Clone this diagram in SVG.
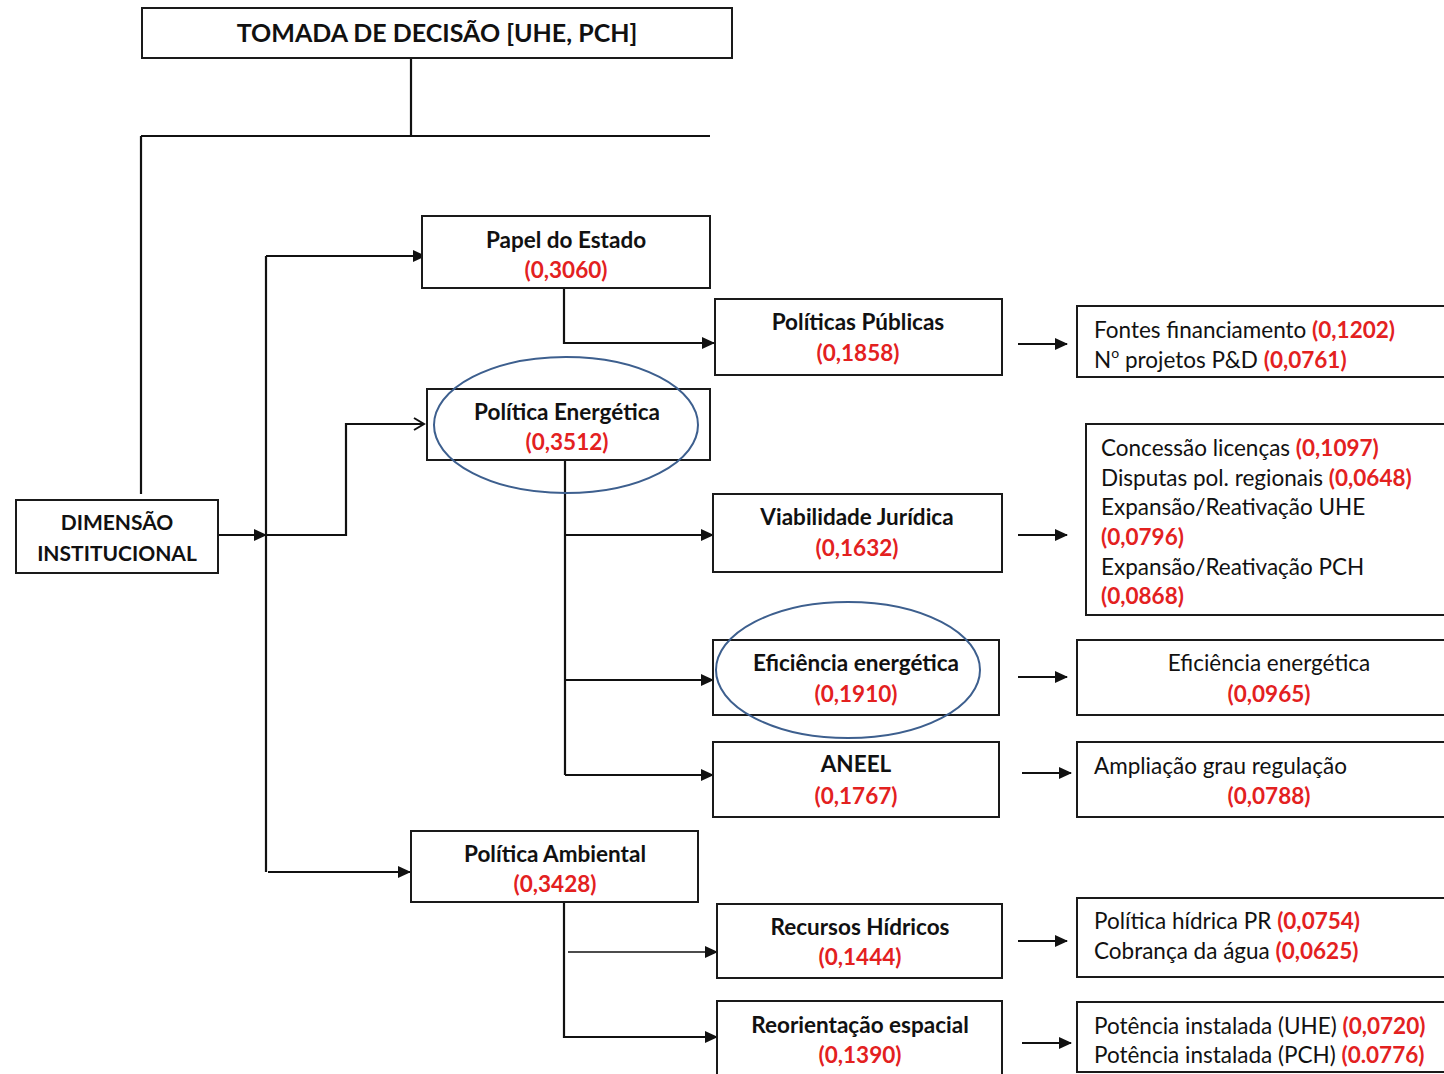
<svg xmlns="http://www.w3.org/2000/svg" width="1444" height="1074" viewBox="0 0 1444 1074">
  <style>
    .box { fill: #fff; stroke: #1a1a1a; stroke-width: 2; }
    .wire { fill: none; stroke: #111; stroke-width: 2.2; }
    .ring { fill: none; stroke: #3d5f8e; stroke-width: 2; }
    text { font-family: Lato, "Open Sans", "Liberation Sans", sans-serif; fill: #111; }
    .title { font-size: 25px; font-weight: bold; text-anchor: middle; }
    .head { font-size: 22.5px; font-weight: bold; text-anchor: middle; }
    .head.small { font-size: 21px; }
    .item { font-size: 22.5px; }
    .mid { text-anchor: middle; }
    .w { fill: #e3211f; font-weight: bold; }
    .sup { font-size: 14px; }
  </style>
  <defs>
    <marker id="tri" markerWidth="13" markerHeight="12" refX="12" refY="6" orient="auto" markerUnits="userSpaceOnUse" viewBox="0 0 13 12">
      <path d="M0,0 L13,6 L0,12 Z" fill="#111"/>
    </marker>
    <marker id="chev" markerWidth="14" markerHeight="14" refX="12" refY="7" orient="auto" markerUnits="userSpaceOnUse" viewBox="0 0 14 14">
      <path d="M2,1 L12,7 L2,13" fill="none" stroke="#111" stroke-width="2"/>
    </marker>
  </defs>

  <!-- connectors -->
  <g id="connectors">
    <path class="wire" d="M411,58 V136"/>
    <path class="wire" d="M141,136 H710"/>
    <path class="wire" d="M141,136 V494"/>
    <path class="wire" d="M218,535 H266" marker-end="url(#tri)"/>
    <path class="wire" d="M266,535 H346 V424 H424" marker-end="url(#chev)"/>
    <path class="wire" d="M266,256 V872"/>
    <path class="wire" d="M266,256 H425" marker-end="url(#tri)"/>
    <path class="wire" d="M268,872 H410" marker-end="url(#tri)"/>
    <path class="wire" d="M564,288 V343 H714" marker-end="url(#tri)"/>
    <path class="wire" d="M565,460 V775"/>
    <path class="wire" d="M565,535 H713" marker-end="url(#tri)"/>
    <path class="wire" d="M565,680 H713" marker-end="url(#tri)"/>
    <path class="wire" d="M565,775 H713" marker-end="url(#tri)"/>
    <path class="wire" d="M564,902 V1037 H717" marker-end="url(#tri)"/>
    <path class="wire" d="M568,952 H717" style="stroke-width:1.5" marker-end="url(#tri)"/>
    <path class="wire" d="M1018,344 H1067" marker-end="url(#tri)"/>
    <path class="wire" d="M1018,535 H1067" marker-end="url(#tri)"/>
    <path class="wire" d="M1018,677 H1067" marker-end="url(#tri)"/>
    <path class="wire" d="M1022,773 H1071" marker-end="url(#tri)"/>
    <path class="wire" d="M1018,941 H1067" marker-end="url(#tri)"/>
    <path class="wire" d="M1022,1043 H1071" marker-end="url(#tri)"/>
  </g>

  <g id="tomada">
    <rect class="box" x="142" y="8" width="590" height="50"/>
    <text class="title" x="437" y="42">TOMADA DE DECISÃO [UHE, PCH]</text>
  </g>

  <g id="dimensao">
    <rect class="box" x="16" y="500" width="202" height="73"/>
    <text class="head small" x="117" y="530">DIMENSÃO</text>
    <text class="head small" x="117" y="561">INSTITUCIONAL</text>
  </g>

  <g id="papel-estado">
    <rect class="box" x="422" y="216" width="288" height="72"/>
    <text class="head" x="566" y="248">Papel do Estado</text>
    <text class="head w" x="566" y="278">(0,3060)</text>
  </g>

  <g id="politicas-publicas">
    <rect class="box" x="715" y="299" width="287" height="76"/>
    <text class="head" x="858" y="330">Políticas Públicas</text>
    <text class="head w" x="858" y="361">(0,1858)</text>
  </g>

  <g id="politica-energetica">
    <rect class="box" x="427" y="389" width="283" height="71"/>
    <text class="head" x="567" y="420">Política Energética</text>
    <text class="head w" x="567" y="450">(0,3512)</text>
    <ellipse class="ring" cx="566" cy="425" rx="132" ry="68"/>
  </g>

  <g id="viabilidade">
    <rect class="box" x="713" y="494" width="289" height="78"/>
    <text class="head" x="857" y="525">Viabilidade Jurídica</text>
    <text class="head w" x="857" y="556">(0,1632)</text>
  </g>

  <g id="eficiencia">
    <rect class="box" x="713" y="640" width="286" height="75"/>
    <text class="head" x="856" y="671">Eficiência energética</text>
    <text class="head w" x="856" y="702">(0,1910)</text>
    <ellipse class="ring" cx="848" cy="670" rx="132" ry="68"/>
  </g>

  <g id="aneel">
    <rect class="box" x="713" y="742" width="286" height="75"/>
    <text class="head" x="856" y="772">ANEEL</text>
    <text class="head w" x="856" y="804">(0,1767)</text>
  </g>

  <g id="politica-ambiental">
    <rect class="box" x="411" y="831" width="287" height="71"/>
    <text class="head" x="555" y="862">Política Ambiental</text>
    <text class="head w" x="555" y="892">(0,3428)</text>
  </g>

  <g id="recursos-hidricos">
    <rect class="box" x="717" y="904" width="285" height="74"/>
    <text class="head" x="860" y="935">Recursos Hídricos</text>
    <text class="head w" x="860" y="965">(0,1444)</text>
  </g>

  <g id="reorientacao">
    <rect class="box" x="717" y="1001" width="285" height="80"/>
    <text class="head" x="860" y="1033">Reorientação espacial</text>
    <text class="head w" x="860" y="1063">(0,1390)</text>
  </g>

  <g id="ind-politicas-publicas">
    <rect class="box" x="1077" y="306" width="380" height="71"/>
    <text class="item" x="1094" y="338">Fontes financiamento <tspan class="w">(0,1202)</tspan></text>
    <text class="item" x="1094" y="368">N<tspan class="sup" dy="-10">o</tspan><tspan dy="10"> projetos P&amp;D </tspan><tspan class="w">(0,0761)</tspan></text>
  </g>

  <g id="ind-viabilidade">
    <rect class="box" x="1086" y="424" width="370" height="191"/>
    <text class="item" x="1101" y="456">Concessão licenças <tspan class="w">(0,1097)</tspan></text>
    <text class="item" x="1101" y="486">Disputas pol. regionais <tspan class="w">(0,0648)</tspan></text>
    <text class="item" x="1101" y="515">Expansão/Reativação UHE</text>
    <text class="item w" x="1101" y="545">(0,0796)</text>
    <text class="item" x="1101" y="575">Expansão/Reativação PCH</text>
    <text class="item w" x="1101" y="604">(0,0868)</text>
  </g>

  <g id="ind-eficiencia">
    <rect class="box" x="1077" y="640" width="380" height="75"/>
    <text class="item mid" x="1269" y="671">Eficiência energética</text>
    <text class="item mid w" x="1269" y="702">(0,0965)</text>
  </g>

  <g id="ind-aneel">
    <rect class="box" x="1077" y="742" width="380" height="75"/>
    <text class="item" x="1094" y="774">Ampliação grau regulação</text>
    <text class="item mid w" x="1269" y="804">(0,0788)</text>
  </g>

  <g id="ind-recursos">
    <rect class="box" x="1077" y="898" width="380" height="79"/>
    <text class="item" x="1094" y="929">Política hídrica PR <tspan class="w">(0,0754)</tspan></text>
    <text class="item" x="1094" y="959">Cobrança da água <tspan class="w">(0,0625)</tspan></text>
  </g>

  <g id="ind-reorientacao">
    <rect class="box" x="1077" y="1002" width="380" height="70"/>
    <text class="item" x="1094" y="1034">Potência instalada (UHE) <tspan class="w">(0,0720)</tspan></text>
    <text class="item" x="1094" y="1063">Potência instalada (PCH) <tspan class="w">(0.0776)</tspan></text>
  </g>
</svg>
